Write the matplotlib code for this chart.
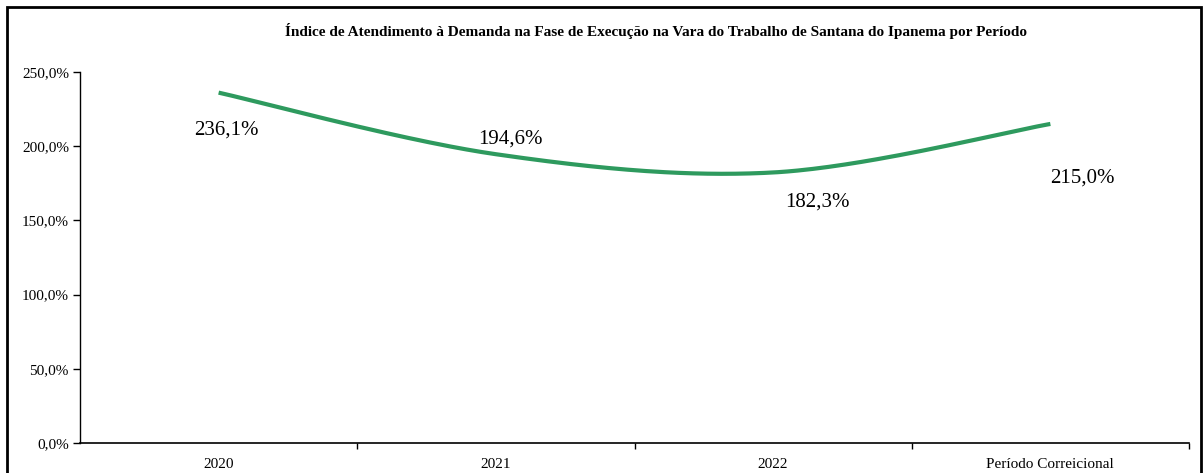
import numpy as np
import matplotlib
matplotlib.use("Agg")
import matplotlib.pyplot as plt
from matplotlib.patches import Rectangle

plt.rcParams['font.family'] = ['Liberation Serif', 'DejaVu Serif']

title = "Índice de Atendimento à Demanda na Fase de Execução na Vara do Trabalho de Santana do Ipanema por Período"
categories = ["2020", "2021", "2022", "Período Correicional"]
values = [236.1, 194.6, 182.3, 215.0]
value_labels = ["236,1%", "194,6%", "182,3%", "215,0%"]
# label offsets in pixels (dx, dy) relative to each point
label_offsets = [(8, -37), (15, 15), (44, -30), (32, -54)]

W, H = 1203, 473
fig = plt.figure(figsize=(W / 100, H / 100), dpi=100)
ax = fig.add_axes([80 / W, 30 / H, (1189 - 80) / W, (443 - 72) / H])

x = np.arange(len(values)) + 0.5
y = np.array(values, dtype=float)


def smooth(xp, yp, n=60):
    # Catmull-Rom style cubic Bezier smoothing through the points
    P = np.column_stack([xp, yp])
    pts = [P[0]] + list(P) + [P[-1]]
    out = []
    for i in range(1, len(pts) - 2):
        p0, p1, p2, p3 = pts[i - 1], pts[i], pts[i + 1], pts[i + 2]
        c1 = p1 + (p2 - p0) / 6
        c2 = p2 - (p3 - p1) / 6
        t = np.linspace(0, 1, n)[:, None]
        seg = ((1 - t) ** 3) * p1 + 3 * ((1 - t) ** 2) * t * c1 + 3 * (1 - t) * t ** 2 * c2 + t ** 3 * p2
        out.append(seg if i == 1 else seg[1:])
    out = np.vstack(out)
    return out[:, 0], out[:, 1]


sx, sy = smooth(x, y)
ax.plot(sx, sy, color='#2E9A5E', lw=3, solid_capstyle='butt')

for xi, yi, lab, (dx, dy) in zip(x, y, value_labels, label_offsets):
    ax.annotate(lab, (xi, yi), xytext=(dx, dy), textcoords='offset pixels',
                ha='center', va='center', fontsize=15, color='black')

ax.set_xlim(0, len(values))
ax.set_ylim(0, 250)
ax.set_yticks(np.arange(0, 251, 50))
ax.set_yticklabels([f"{v:.1f}%".replace('.', ',') for v in np.arange(0, 251, 50)], fontsize=11)
ax.set_xticks(np.arange(1, len(values) + 1), minor=False)
ax.set_xticklabels([])
ax.set_xticks(x, minor=True)
ax.set_xticklabels(categories, minor=True, fontsize=11)
ax.tick_params(axis='x', which='minor', length=0, pad=11)
ax.tick_params(axis='x', which='major', length=4, direction='out', width=1)
ax.tick_params(axis='y', length=5, direction='out', width=1, pad=3)
for s in ['top', 'right']:
    ax.spines[s].set_visible(False)
ax.spines['left'].set_linewidth(1)
ax.spines['bottom'].set_linewidth(1.2)

fig.text(656 / W, 1 - 31 / H, title, ha='center', va='center',
         fontsize=11, fontweight='bold')

fig.patches.append(Rectangle((7 / W, -0.05), (1201 - 7) / W, 1.05 - 7 / H,
                             transform=fig.transFigure, fill=False, lw=2, ec='black'))

fig.savefig("out.png", dpi=100)
